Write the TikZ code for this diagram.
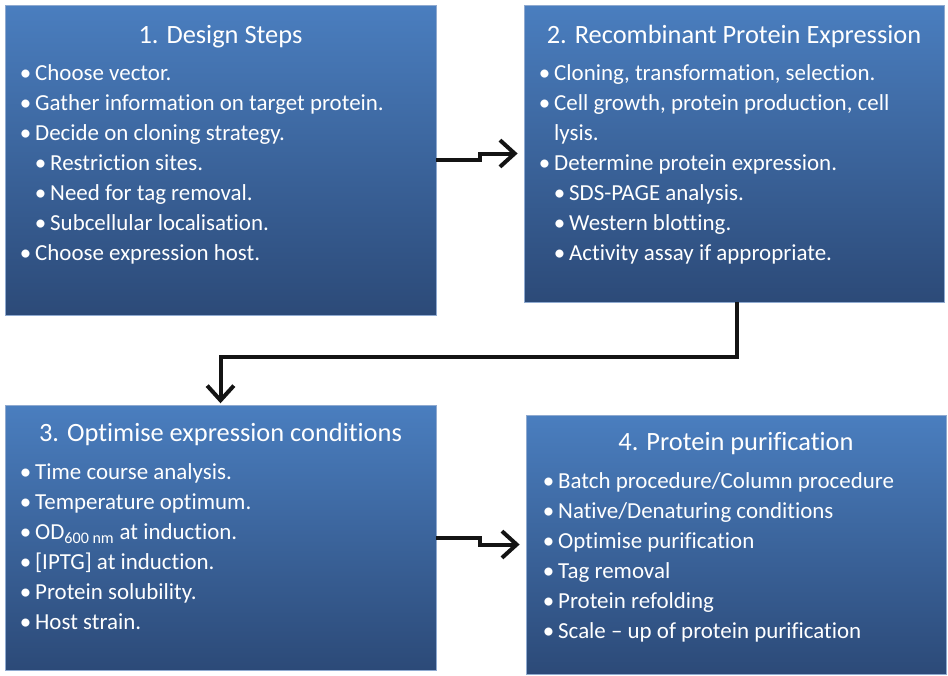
\documentclass[tikz,border=0pt]{standalone}
\usepackage{fontspec}
\setmainfont{Carlito}[Ligatures=CommonOff]
\usetikzlibrary{arrows.meta,positioning,calc}
\definecolor{panelTop}{HTML}{4A7EBF}
\definecolor{panelBot}{HTML}{2C4A78}
\definecolor{panelEdge}{HTML}{8FAAD0}
\definecolor{flowInk}{HTML}{141414}
\newcommand{\itm}[1]{\makebox[11.5pt][l]{\textbullet}#1}
\newcommand{\sitm}[1]{\hspace*{11.25pt}\itm{#1}}
\tikzset{
  panel/.style={rectangle, draw=panelEdge, line width=0.6pt, top color=panelTop, bottom color=panelBot, inner sep=0pt},
  ttl/.style={text=white, font=\fontsize{19.8}{24}\selectfont, inner sep=0pt},
  lst/.style={text=white, font=\fontsize{17.2}{22.5}\selectfont, align=left, inner sep=0pt, anchor=north west},
  flow/.style={draw=flowInk, line width=3pt, -{Straight Barb[length=11pt,width=20pt]}, shorten >=4.5pt},
}
\begin{document}
\begin{tikzpicture}[x=0.75pt, y=-0.75pt]
  \useasboundingbox (0,0) rectangle (948,675);
  % panels
  \node[panel, minimum width=323.25pt, minimum height=232.5pt] (b1) at (220.5,160) {};
  \node[panel, minimum width=315pt, minimum height=222.75pt] (b2) at (734,153.5) {};
  \node[panel, minimum width=323.25pt, minimum height=198.75pt] (b3) at (220.5,537.5) {};
  \node[panel, minimum width=315pt, minimum height=194.25pt] (b4) at (736,544.5) {};
  % titles
  \node[ttl] (t1) at ($(b1.north)+(0,32)$) {1. Design Steps};
  \node[ttl] (t2) at ($(b2.north)+(0,32)$) {2. Recombinant Protein Expression};
  \node[ttl] (t3) at ($(b3.north)+(0,30)$) {3. Optimise expression conditions};
  \node[ttl] (t4) at ($(b4.north)+(0,29)$) {4. Protein purification};
  % lists
  \node[lst] (l1) at ($(b1.north west)+(15,55)$) {\strut\itm{Choose vector.}\\
    \itm{Gather information on target protein.}\\
    \itm{Decide on cloning strategy.}\\
    \sitm{Restriction sites.}\\
    \sitm{Need for tag removal.}\\
    \sitm{Subcellular localisation.}\\
    \itm{Choose expression host.}};
  \node[lst] (l2) at ($(b2.north west)+(15,55)$) {\strut\itm{Cloning, transformation, selection.}\\
    \itm{Cell growth, protein production, cell}\\
    \hspace*{11.5pt}lysis.\\
    \itm{Determine protein expression.}\\
    \sitm{SDS-PAGE analysis.}\\
    \sitm{Western blotting.}\\
    \sitm{Activity assay if appropriate.}};
  \node[lst] (l3) at ($(b3.north west)+(15,54)$) {\strut\itm{Time course analysis.}\\
    \itm{Temperature optimum.}\\
    \itm{OD\textsubscript{600 nm} at induction.}\\
    \itm{[IPTG] at induction.}\\
    \itm{Protein solubility.}\\
    \itm{Host strain.}};
  \node[lst] (l4) at ($(b4.north west)+(17,53)$) {\strut\itm{Batch procedure/Column procedure}\\
    \itm{Native/Denaturing conditions}\\
    \itm{Optimise purification}\\
    \itm{Tag removal}\\
    \itm{Protein refolding}\\
    \itm{Scale -- up of protein purification}};
  % connectors
  \draw[flow] (b1.east) -- ++(44,0) |- (b2.west);
  \draw[flow, shorten >=1pt] ($(b2.south)+(3,0)$) -- ++(0,55) -| (b3.north);
  \draw[flow] (b3.east) -- ++(44,0) |- (b4.west);
\end{tikzpicture}
\end{document}
